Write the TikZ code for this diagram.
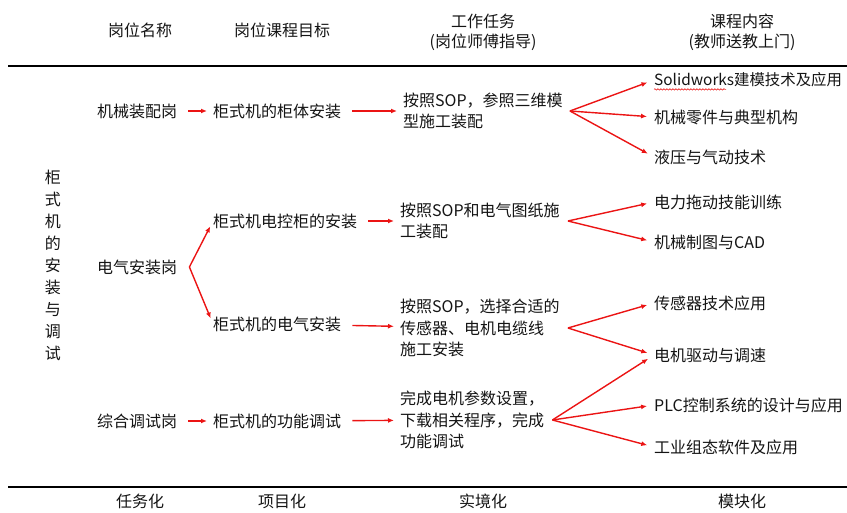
\documentclass[tikz,border=0pt]{standalone}
\usepackage{fontspec}
\setmainfont{Noto Sans CJK SC}
\usetikzlibrary{arrows.meta,positioning,decorations.pathmorphing}
\definecolor{arrowred}{RGB}{235,20,20}
\definecolor{textgray}{RGB}{20,20,20}

\begin{document}
\begin{tikzpicture}[x=1pt,y=-1pt,
    txt/.style={inner sep=0pt,anchor=west,align=left,text=textgray,
                font=\fontsize{16}{21.5}\selectfont},
    head/.style={inner sep=0pt,align=center,text=textgray,
                 font=\fontsize{16}{20}\selectfont},
    arr/.style={-{Latex[length=6pt,width=5pt]},line width=1.4pt,arrowred,
                shorten <=11pt,shorten >=6pt},
    fan/.style={-{Latex[length=6pt,width=5pt]},line width=1.4pt,arrowred,
                shorten >=7pt},
    rule/.style={line width=2.5pt,black},
  ]
    \useasboundingbox (0,0) rectangle (847,513);
    % header and footer
    \node[head](h1) at (140,30){岗位名称};
    \node[head](h2) at (282,30){岗位课程目标};
    \node[head](h3) at (483,32){工作任务\\(岗位师傅指导)};
    \node[head](h4) at (742,32){课程内容\\(教师送教上门)};
    \draw[rule](8,66)--(847,66);
    \draw[rule](8,487)--(847,487);
    \node[head](f1) at (140,501){任务化};
    \node[head](f2) at (282,501){项目化};
    \node[head](f3) at (483,501){实境化};
    \node[head](f4) at (742,501){模块化};
    \node[head,font=\fontsize{16}{22}\selectfont](v) at (53,265)
      {柜\\式\\机\\的\\安\\装\\与\\调\\试};
    % posts
    \node[txt](a1) at (97,111){机械装配岗};
    \node[txt](a2) at (97,267){电气安装岗};
    \node[txt](a3) at (97,421){综合调试岗};
    % course goals
    \node[txt](b1) at (213,111){柜式机的柜体安装};
    \node[txt](b2) at (213,221){柜式机电控柜的安装};
    \node[txt](b3) at (213,324){柜式机的电气安装};
    \node[txt](b4) at (213,421){柜式机的功能调试};
    % work tasks
    \node[txt](c1) at (403,111){按照SOP，参照三维模\\型施工装配};
    \node[txt](c2) at (400,221){按照SOP和电气图纸施\\工装配};
    \node[txt](c3) at (400,328){按照SOP，选择合适的\\传感器、电机电缆线\\施工安装};
    \node[txt](c4) at (400,420){完成电机参数设置，\\下载相关程序，完成\\功能调试};
    % course modules
    \node[txt,font=\fontsize{15.4}{20}\selectfont](d1) at (654,80){Solidworks建模技术及应用};
    \node[txt](d2) at (654,117){机械零件与典型机构};
    \node[txt](d3) at (654,157){液压与气动技术};
    \node[txt](d4) at (654,202){电力拖动技能训练};
    \node[txt](d5) at (654,242){机械制图与CAD};
    \node[txt](d6) at (654,303){传感器技术应用};
    \node[txt](d7) at (654,355){电机驱动与调速};
    \node[txt](d8) at (654,405){PLC控制系统的设计与应用};
    \node[txt](d9) at (654,447){工业组态软件及应用};
    \draw[arrowred,line width=0.6pt,decorate,
          decoration={snake,amplitude=0.7pt,segment length=3pt}]
      ([yshift=-2pt]d1.south west)--++(72,0);
    % arrows
    \draw[arr](a1)--(b1); \draw[arr](b1)--(c1);
    \draw[arr](b2)--(c2); \draw[arr](b3)--(c3);
    \draw[arr](a3)--(b4); \draw[arr](b4)--(c4);
    \coordinate(g0) at ([xshift=12pt]a2.east);
    \draw[fan,shorten >=6pt](g0)--(b2.west);
    \draw[fan,shorten >=6pt](g0)--(b3.west);
    \coordinate(g1) at ([xshift=7pt]c1.east);
    \coordinate(g2) at ([xshift=8pt]c2.east);
    \coordinate(g3) at ([xshift=8pt]c3.east);
    \coordinate(g4) at ([xshift=8pt]c4.east);
    \foreach \t in {d1,d2,d3}{\draw[fan](g1)--(\t.west);}
    \foreach \t in {d4,d5}{\draw[fan](g2)--(\t.west);}
    \foreach \t in {d6,d7}{\draw[fan](g3)--(\t.west);}
    \foreach \t in {d7,d8,d9}{\draw[fan](g4)--(\t.west);}
\end{tikzpicture}
\end{document}
